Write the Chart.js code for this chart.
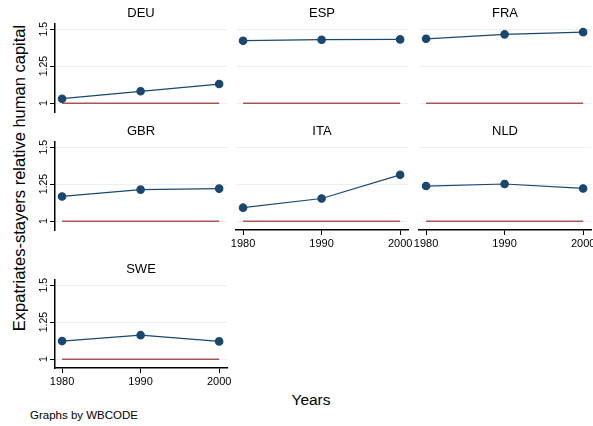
<!DOCTYPE html>
<html>
<head>
<meta charset="utf-8">
<script src="https://cdn.jsdelivr.net/npm/chart.js@4.4.0/dist/chart.umd.min.js"></script>
<style>
body { margin: 0; background: #fff; font-family: "Liberation Sans", Arial, sans-serif; }
#wrap { position: relative; width: 593px; height: 426px; overflow: hidden; background: #fff; }
#wrap canvas { position: absolute; }
.txt { position: absolute; white-space: nowrap; color: #000; }
#ytitle { left: 19px; top: 178px; font-size: 16.5px; transform: translate(-50%, -50%) rotate(-90deg); }
#xtitle { left: 311px; top: 400px; font-size: 15.5px; transform: translate(-50%, -50%); }
#note { left: 30px; top: 415px; font-size: 11.5px; transform: translate(0, -50%); }
</style>
</head>
<body>
<div id="wrap">
  <div class="txt" id="ytitle">Expatriates-stayers relative human capital</div>
  <div class="txt" id="xtitle">Years</div>
  <div class="txt" id="note">Graphs by WBCODE</div>
</div>
<script>
// values
const years = [1980, 1990, 2000];
const yearTicks = [1980, 1990, 2000];
const valueTicks = [1, 1.25, 1.5];
const baseline = [1, 1, 1];
const deu = [1.030, 1.080, 1.129];
const esp = [1.422, 1.429, 1.431];
const fra = [1.435, 1.465, 1.480];
const gbr = [1.167, 1.213, 1.220];
const ita = [1.091, 1.153, 1.313];
const nld = [1.237, 1.251, 1.221];
const swe = [1.122, 1.162, 1.120];

const navy = '#1a476f';
const maroon = 'rgba(150,45,50,0.8)';
const gridColor = '#e8f0f1';
const family = '"Liberation Sans", Arial, sans-serif';

const colLeft = [55, 236, 419];
const rowTop = [24, 142, 280];

const panels = [
  {name: 'DEU', vals: deu, col: 0, row: 0, yAxis: true,  xAxis: false},
  {name: 'ESP', vals: esp, col: 1, row: 0, yAxis: false, xAxis: false},
  {name: 'FRA', vals: fra, col: 2, row: 0, yAxis: false, xAxis: false},
  {name: 'GBR', vals: gbr, col: 0, row: 1, yAxis: true,  xAxis: false},
  {name: 'ITA', vals: ita, col: 1, row: 1, yAxis: false, xAxis: true},
  {name: 'NLD', vals: nld, col: 2, row: 1, yAxis: false, xAxis: true},
  {name: 'SWE', vals: swe, col: 0, row: 2, yAxis: true,  xAxis: true}
];

function makePanel(p) {
  let cv = document.createElement('canvas');
  cv.width = 227;
  cv.height = 138;
  cv.style.left = (colLeft[p.col] - 45) + 'px';
  cv.style.top = (rowTop[p.row] - 24) + 'px';
  document.getElementById('wrap').appendChild(cv);

  new Chart(cv.getContext('2d'), {
    type: 'line',
    data: {
      datasets: [{
        data: years.map((x, i) => ({x: x, y: p.vals[i]})),
        borderColor: navy,
        backgroundColor: navy,
        pointBorderColor: navy,
        borderWidth: 1.2,
        pointRadius: 3.7,
        order: 1
      }, {
        data: years.map((x, i) => ({x: x, y: baseline[i]})),
        borderColor: maroon,
        borderWidth: 1.5,
        pointRadius: 0,
        order: 2
      }]
    },
    options: {
      responsive: false,
      animation: false,
      events: [],
      layout: {padding: {left: 0, right: 10, top: 0, bottom: 0}},
      plugins: {
        legend: {display: false},
        tooltip: {enabled: false},
        title: {
          display: true,
          text: p.name,
          fullSize: false,
          color: '#000',
          font: {family: family, size: 13, weight: 'normal', lineHeight: 1.2},
          padding: {top: 5.2, bottom: 3.2}
        }
      },
      scales: {
        x: {
          type: 'linear',
          min: 1979.1,
          max: 2001,
          afterBuildTicks: s => { s.ticks = yearTicks.map(v => ({value: v})); },
          afterFit: s => { s.height = 26; },
          border: {display: p.xAxis, color: '#000', width: 1.5},
          grid: {display: p.xAxis, drawOnChartArea: false, drawTicks: true, tickLength: 5, tickColor: '#000', tickWidth: 1},
          ticks: {display: p.xAxis, color: '#000', font: {family: family, size: 11}, padding: 2, maxRotation: 0, callback: v => String(v)}
        },
        y: {
          min: 0.94,
          max: 1.535,
          afterBuildTicks: s => { s.ticks = valueTicks.map(v => ({value: v})); },
          afterFit: s => { s.width = 45; },
          border: {display: p.yAxis, color: '#000', width: 1.5},
          grid: {color: gridColor, lineWidth: 1, drawTicks: p.yAxis, tickLength: 5, tickColor: '#000', tickWidth: 1},
          ticks: {display: p.yAxis, color: '#000', font: {family: family, size: 10.5}, minRotation: 90, maxRotation: 90,
                  crossAlign: 'center', padding: -4, callback: v => String(v)}
        }
      }
    }
  });
}

panels.forEach(makePanel);
</script>
</body>
</html>
